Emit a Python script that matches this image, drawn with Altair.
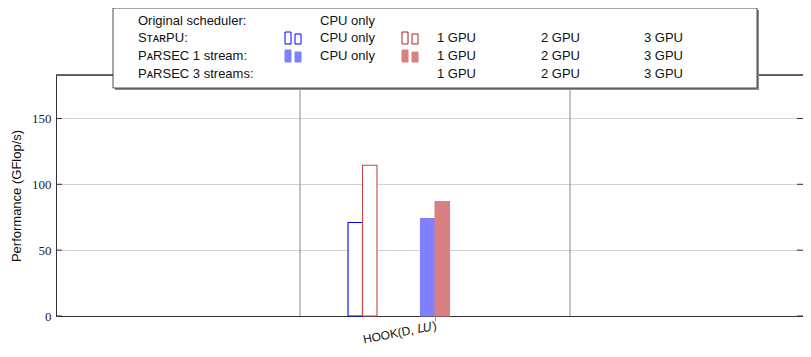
import altair as alt
import pandas as pd

# ---------------- data ----------------
group_labels = ["HOOK(D, 𝐿𝑈)"]
series = [
    "StarPU CPU only", "StarPU 1 GPU", "StarPU 2 GPU", "StarPU 3 GPU",
    "Original CPU only",
    "PaRSEC1 CPU only", "PaRSEC1 1 GPU", "PaRSEC1 2 GPU", "PaRSEC1 3 GPU",
    "PaRSEC3 1 GPU", "PaRSEC3 2 GPU", "PaRSEC3 3 GPU",
]
hook_values = [71, 114.5, None, None, None, 74, 87, None, None, None, None, None]
y_ticks = [0, 50, 100, 150]
y_max = 183

legend_row_labels = ["Original scheduler:", "SᴛᴀʀPU:", "PᴀRSEC 1 stream:", "PᴀRSEC 3 streams:"]
legend_cells = [
    ["CPU only", "", "", ""],
    ["CPU only", "1 GPU", "2 GPU", "3 GPU"],
    ["CPU only", "1 GPU", "2 GPU", "3 GPU"],
    ["", "1 GPU", "2 GPU", "3 GPU"],
]

# ---------------- styles ----------------
fill_map = {
    "StarPU CPU only": "#ffffff", "StarPU 1 GPU": "#ffffff",
    "PaRSEC1 CPU only": "#8080ff", "PaRSEC1 1 GPU": "#d98080",
}
stroke_map = {
    "StarPU CPU only": "#0000ff", "StarPU 1 GPU": "#c84848",
    "PaRSEC1 CPU only": "#8080ff", "PaRSEC1 1 GPU": "#d98080",
}
W, H = 747, 241
group_px = 270.0
slot_px = 14.5
slot_u = slot_px / group_px
x_dom = [1 - 379 / group_px, 1 + (W - 379) / group_px]

# ---------------- frames ----------------
rows = []
for gi, lab in enumerate(group_labels):
    gpos = gi + 1
    for k, (s, v) in enumerate(zip(series, hook_values)):
        if v is None:
            continue
        c = gpos + (k - (len(series) - 1) / 2) * slot_u
        rows.append({"group": lab, "series": s, "value": v, "base": 0,
                     "x0": c - slot_u / 2, "x1": c + slot_u / 2})
bars_df = pd.DataFrame(rows)
present = list(bars_df["series"])

sep_df = pd.DataFrame({"sep": [0.5, 1.5]})
tick_df = pd.DataFrame({"t": y_ticks})

xscale = alt.Scale(domain=x_dom, nice=False, zero=False)
yscale = alt.Scale(domain=[0, y_max], nice=False)

x_axis = alt.Axis(values=[1], labelExpr="'" + group_labels[0] + "'", grid=False,
                  tickColor="#9a9a9a", tickSize=5, domainColor="#333333",
                  labelAngle=-11, labelAlign="right", labelBaseline="top",
                  labelFont="Liberation Sans", labelFontSize=12, labelColor="#111111",
                  labelPadding=-1, title=None)
y_axis = alt.Axis(values=y_ticks, grid=True, gridColor="#d2d2d2", ticks=False,
                  domainColor="#333333", labelFont="Liberation Serif", labelFontSize=13,
                  labelColor="#222222", labelPadding=5,
                  title="Performance (GFlop/s)", titleFont="Liberation Sans",
                  titleFontSize=13, titleFontWeight="normal", titleColor="#111111",
                  titlePadding=8)

sep = alt.Chart(sep_df).mark_rule(color="#8a8a8a", strokeWidth=1).encode(
    x=alt.X("sep:Q", scale=xscale, axis=x_axis),
    y=alt.value(0), y2=alt.value(H))

bars = alt.Chart(bars_df).mark_rect(strokeWidth=1.1).encode(
    x=alt.X("x0:Q", scale=xscale, axis=x_axis),
    x2="x1:Q",
    y=alt.Y("value:Q", scale=yscale, axis=y_axis),
    y2="base:Q",
    fill=alt.Fill("series:N", scale=alt.Scale(domain=present, range=[fill_map[s] for s in present]), legend=None),
    stroke=alt.Stroke("series:N", scale=alt.Scale(domain=present, range=[stroke_map[s] for s in present]), legend=None),
)

tick_l = alt.Chart(tick_df).mark_rule(color="#333333").encode(
    y=alt.Y("t:Q", scale=yscale), x=alt.value(0), x2=alt.value(6))
tick_r = alt.Chart(tick_df).mark_rule(color="#333333").encode(
    y=alt.Y("t:Q", scale=yscale), x=alt.value(W - 6), x2=alt.value(W))
top_frame = alt.Chart(sep_df).mark_rule(color="#333333").encode(
    y=alt.value(0), x=alt.value(0), x2=alt.value(W))

# ---------------- custom legend (pixel layout) ----------------
bx0, bx1, by0, by1 = 57, 701, -67, 13
shadow = alt.Chart(sep_df.head(1)).mark_rect(fill="#8c8c8c").encode(
    x=alt.value(bx0 + 2), x2=alt.value(bx1 + 2), y=alt.value(by0 + 2), y2=alt.value(by1 + 2))
box = alt.Chart(sep_df.head(1)).mark_rect(fill="white", stroke="#222222", strokeWidth=0.8).encode(
    x=alt.value(bx0), x2=alt.value(bx1), y=alt.value(by0), y2=alt.value(by1))

row_y = [-54, -37, -19, -1]
col_x = [264, 381, 485, 588]
ltxt = []
for r, lab in enumerate(legend_row_labels):
    ltxt.append({"lx": 82, "ly": row_y[r], "txt": lab})
    for c, cell in enumerate(legend_cells[r]):
        if cell:
            ltxt.append({"lx": col_x[c], "ly": row_y[r], "txt": cell})
ltxt_df = pd.DataFrame(ltxt)
legend_text = alt.Chart(ltxt_df).mark_text(
    align="left", baseline="middle", font="Liberation Sans", fontSize=13, color="#111111").encode(
    x=alt.X("lx:Q", scale=None, axis=None), y=alt.Y("ly:Q", scale=None, axis=None), text="txt:N")

icons = []
icon_specs = [  # row, x start, fill, stroke
    (1, 229, "#ffffff", "#0000ff"), (1, 346, "#ffffff", "#b02020"),
    (2, 229, "#8080ff", "#8080ff"), (2, 346, "#d98080", "#d98080"),
]
for r, x0, f, s in icon_specs:
    icons.append({"ix0": x0, "ix1": x0 + 6, "iy0": row_y[r] - 6, "iy1": row_y[r] + 6, "f": f, "s": s})
    icons.append({"ix0": x0 + 10, "ix1": x0 + 16, "iy0": row_y[r] - 4, "iy1": row_y[r] + 6, "f": f, "s": s})
icons_df = pd.DataFrame(icons)
legend_icons = alt.Chart(icons_df).mark_rect(strokeWidth=1).encode(
    x=alt.X("ix0:Q", scale=None, axis=None), x2="ix1:Q",
    y=alt.Y("iy0:Q", scale=None, axis=None), y2="iy1:Q",
    fill=alt.Fill("f:N", scale=None), stroke=alt.Stroke("s:N", scale=None))

chart = alt.layer(sep, bars, tick_l, tick_r, top_frame, shadow, box, legend_text, legend_icons).properties(
    width=W, height=H,
    autosize=alt.AutoSizeParams(type="none"),
    padding={"left": 48, "top": 67, "right": 0, "bottom": 33},
).configure_view(stroke=None).configure(background="white")

chart.save("out.html", embed_options={"renderer": "svg", "actions": False})
